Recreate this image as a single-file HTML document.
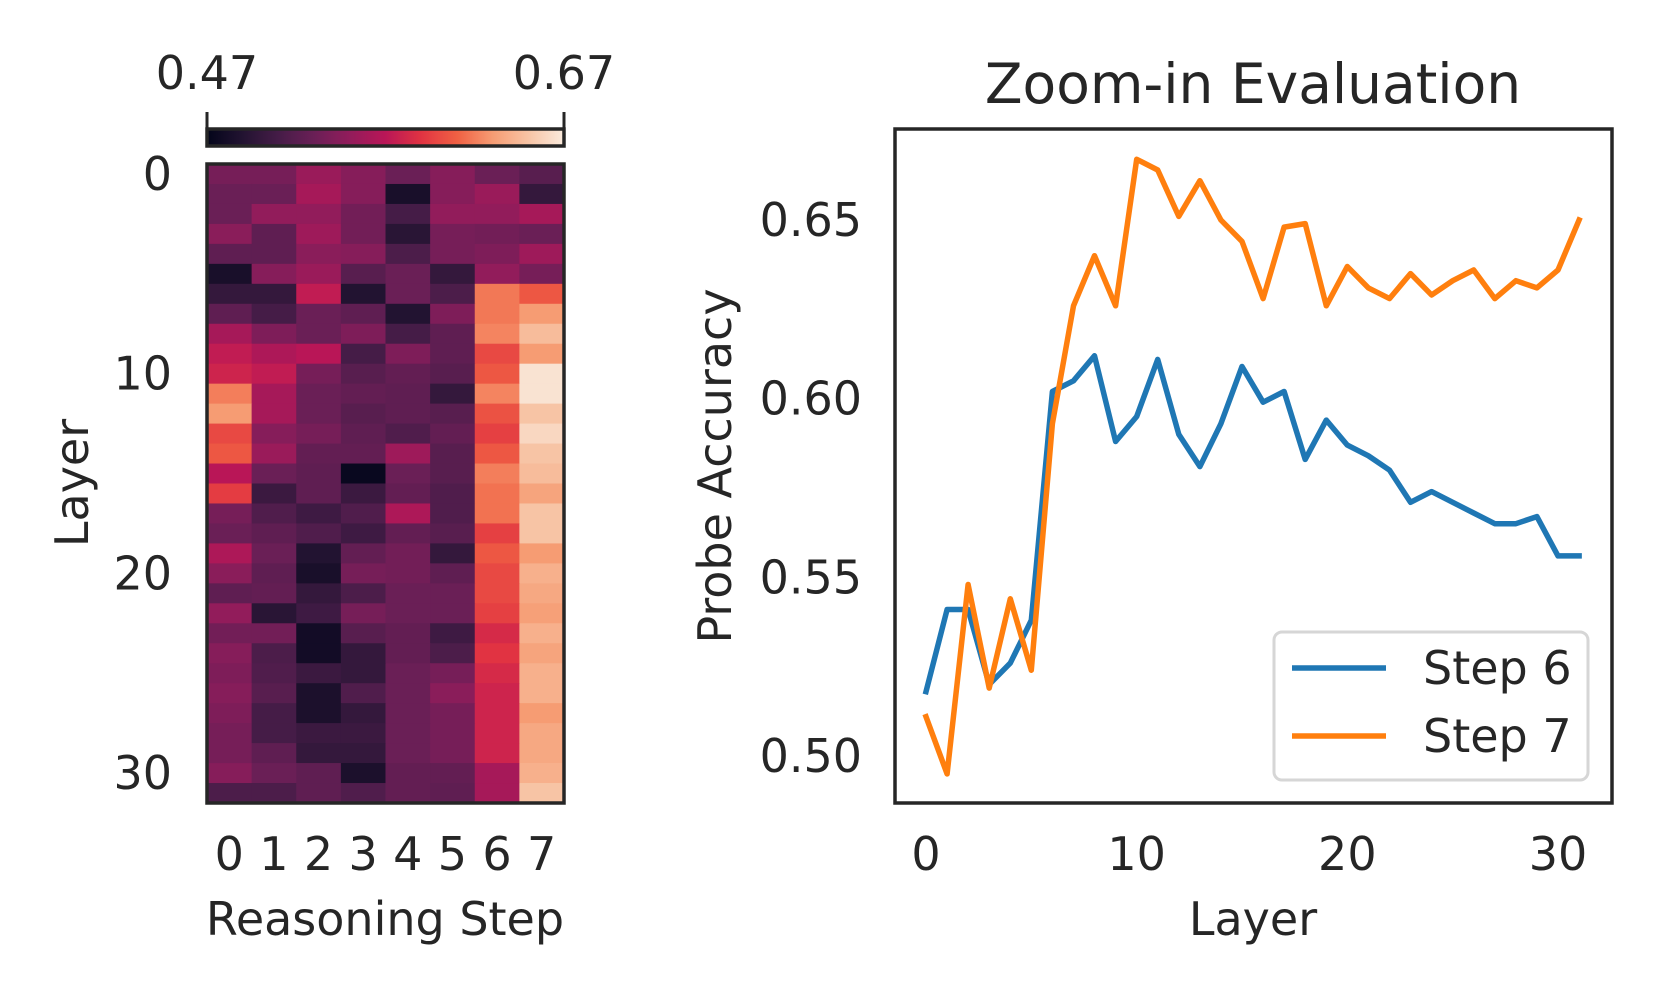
<!DOCTYPE html>
<html><head><meta charset="utf-8"><style>
html,body{margin:0;padding:0;background:#fff;}
svg{display:block;font-family:"DejaVu Sans","Liberation Sans",sans-serif;}
</style></head><body>
<svg id="fig" width="1661" height="997" viewBox="0 0 1661 997">
<g id="heat"></g>
<g id="line"></g>
</svg>
<script>
const steps=[0,1,2,3,4,5,6,7];
const heatRows=[
[.536,.536,.554,.544,.53,.544,.53,.52],
[.53,.53,.56,.544,.484,.544,.554,.5],
[.53,.55,.55,.534,.51,.55,.55,.56],
[.546,.524,.556,.534,.494,.536,.534,.53],
[.524,.524,.546,.544,.514,.536,.54,.556],
[.484,.544,.554,.52,.53,.5,.55,.536],
[.5,.5,.574,.49,.53,.514,.618,.606],
[.524,.51,.53,.524,.49,.54,.618,.63],
[.56,.54,.53,.54,.51,.524,.622,.646],
[.574,.564,.57,.51,.54,.524,.6,.63],
[.58,.574,.536,.52,.526,.52,.606,.666],
[.62,.56,.53,.526,.524,.5,.622,.666],
[.63,.56,.53,.52,.524,.52,.604,.65],
[.6,.544,.536,.524,.516,.526,.596,.66],
[.606,.554,.526,.526,.556,.52,.606,.65],
[.57,.53,.524,.474,.53,.52,.62,.646],
[.594,.504,.524,.504,.526,.516,.616,.634],
[.536,.516,.506,.516,.564,.516,.616,.65],
[.53,.524,.516,.506,.526,.52,.596,.65],
[.564,.53,.49,.526,.534,.5,.606,.63],
[.546,.524,.484,.536,.534,.524,.6,.64],
[.524,.526,.5,.514,.53,.53,.6,.636],
[.55,.494,.506,.536,.53,.53,.596,.632],
[.534,.534,.48,.52,.526,.506,.584,.64],
[.544,.514,.48,.5,.526,.514,.59,.634],
[.54,.516,.504,.5,.53,.536,.584,.64],
[.544,.52,.486,.516,.53,.546,.58,.64],
[.54,.51,.486,.5,.53,.536,.58,.63],
[.536,.51,.504,.504,.53,.536,.58,.636],
[.536,.524,.5,.5,.53,.536,.58,.636],
[.544,.53,.524,.486,.526,.526,.56,.64],
[.514,.514,.524,.516,.526,.524,.56,.65]];
const heatYTicks=[0,10,20,30];
const cbarTicks=["0.47","0.67"];
const layers=[...Array(32).keys()];
const step6=[.518,.541,.541,.520,.526,.538,.602,.605,.612,.588,.595,.611,.590,.581,.593,.609,.599,.602,.583,.594,.587,.584,.580,.571,.574,.571,.568,.565,.565,.567,.556,.556];
const step7=[.511,.495,.548,.519,.544,.524,.593,.626,.640,.626,.667,.664,.651,.661,.650,.644,.628,.648,.649,.626,.637,.631,.628,.635,.629,.633,.636,.628,.633,.631,.636,.650];
const lineXTicks=[0,10,20,30];
const lineYTicks=[0.50,0.55,0.60,0.65];

const NS="http://www.w3.org/2000/svg";
function mk(p,t,a){const e=document.createElementNS(NS,t);for(const k in a)e.setAttribute(k,a[k]);p.appendChild(e);return e;}
const stops=[[0,[3,5,26]],[.1,[34,19,49]],[.2,[69,28,71]],[.3,[106,31,86]],[.4,[146,28,91]],[.5,[185,22,87]],[.6,[225,51,66]],[.7,[240,96,67]],[.8,[246,156,115]],[.9,[247,196,165]],[1,[250,235,221]]];
function rocket(t){t=Math.max(0,Math.min(1,t));for(let i=1;i<stops.length;i++){if(t<=stops[i][0]){const a=stops[i-1],b=stops[i],f=(t-a[0])/(b[0]-a[0]);return"rgb("+a[1].map((c,j)=>Math.round(c+(b[1][j]-c)*f)).join(",")+")";}}return"rgb(250,235,221)";}
const TC="#262626",FS=46;
// heatmap
const H=document.getElementById('heat');
const hx0=207,hx1=564,hy0=164,hy1=803;
const cw=(hx1-hx0)/steps.length,ch=(hy1-hy0)/heatRows.length;
const vmin=0.47,vmax=0.67;
heatRows.forEach((row,r)=>row.forEach((v,c)=>{
 const e=mk(H,'rect',{x:hx0+c*cw,y:hy0+r*ch,width:cw+0.6,height:ch+0.6,fill:rocket((v-vmin)/(vmax-vmin))});
 
 
}));
let e=mk(H,'rect',{x:hx0,y:hy0,width:hx1-hx0,height:hy1-hy0,fill:'none',stroke:TC,'stroke-width':3.5});

// colorbar
const defs=mk(H,'defs',{});const g=mk(defs,'linearGradient',{id:'rk',x1:0,x2:1,y1:0,y2:0});
for(let i=0;i<=20;i++)mk(g,'stop',{offset:i/20,'stop-color':rocket(i/20)});
e=mk(H,'rect',{x:hx0,y:129,width:hx1-hx0,height:17,fill:'url(#rk)',stroke:TC,'stroke-width':3.5});

cbarTicks.forEach((t,i)=>{const x=i?hx1:hx0;
 mk(H,'line',{x1:x,x2:x,y1:112,y2:129,stroke:TC,'stroke-width':3});
 e=mk(H,'text',{x:x,y:89,'text-anchor':'middle','font-size':FS,fill:TC});e.textContent=t;
 });
heatYTicks.forEach(t=>{e=mk(H,'text',{x:172,y:hy0+(t+0.5)*ch+16,'text-anchor':'end','font-size':FS,fill:TC});e.textContent=t;
 });
steps.forEach(s=>{e=mk(H,'text',{x:hx0+(s+0.5)*cw,y:870,'text-anchor':'middle','font-size':FS,fill:TC});e.textContent=s;
 });
e=mk(H,'text',{x:385,y:935,'text-anchor':'middle','font-size':FS,fill:TC});e.textContent='Reasoning Step';

e=mk(H,'text',{x:0,y:0,'text-anchor':'middle','font-size':FS,fill:TC,transform:'translate(88,483) rotate(-90)'});e.textContent='Layer';

// line chart
const L=document.getElementById('line');
const px0=895,px1=1612,py0=129,py1=803;
const xs=v=>926+(v-0)*(1558-926)/30;
const ys=v=>756-(v-0.50)*(756-220)/0.15;
e=mk(L,'text',{x:1253,y:103,'text-anchor':'middle','font-size':55,fill:TC});e.textContent='Zoom-in Evaluation';

lineXTicks.forEach(t=>{e=mk(L,'text',{x:xs(t),y:870,'text-anchor':'middle','font-size':FS,fill:TC});e.textContent=t;
 });
lineYTicks.forEach(t=>{e=mk(L,'text',{x:862,y:ys(t)+16,'text-anchor':'end','font-size':FS,fill:TC});e.textContent=t.toFixed(2);
 });
e=mk(L,'text',{x:1253,y:935,'text-anchor':'middle','font-size':FS,fill:TC});e.textContent='Layer';

e=mk(L,'text',{x:0,y:0,'text-anchor':'middle','font-size':FS,fill:TC,transform:'translate(731,466) rotate(-90)'});e.textContent='Probe Accuracy';

function series(vals,col,name){const d=vals.map((v,i)=>(i?'L':'M')+xs(layers[i]).toFixed(1)+','+ys(v).toFixed(1)).join(' ');
 const p=mk(L,'path',{d:d,fill:'none',stroke:col,'stroke-width':5.5,'stroke-linejoin':'round','stroke-linecap':'square'});
 }
series(step6,'#1f77b4','step-6-line');
series(step7,'#ff7f0e','step-7-line');
e=mk(L,'rect',{x:px0,y:py0,width:px1-px0,height:py1-py0,fill:'none',stroke:TC,'stroke-width':3.5});

// legend
const lg=mk(L,'g',{});
mk(lg,'rect',{x:1274,y:632,width:314,height:148,rx:8,fill:'#fff','fill-opacity':0.85,stroke:'#d6d6d6','stroke-width':3});
[['Step 6','#1f77b4',668],['Step 7','#ff7f0e',736]].forEach(([t,c,y])=>{
 const ge=mk(lg,'g',{});
 mk(ge,'line',{x1:1292,x2:1386,y1:y,y2:y,stroke:c,'stroke-width':5.5});
 const tx=mk(ge,'text',{x:1423,y:y+16,'font-size':FS,fill:TC});tx.textContent=t;});
</script>
</body></html>
